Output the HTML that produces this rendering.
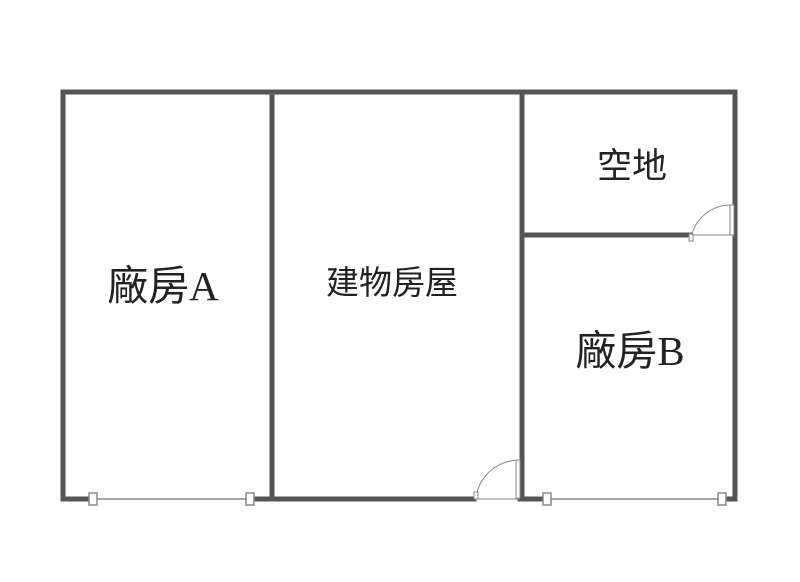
<!DOCTYPE html>
<html><head><meta charset="utf-8"><style>body{margin:0;background:#fff}</style></head><body>
<svg width="800" height="577" viewBox="0 0 800 577" xmlns="http://www.w3.org/2000/svg">
<g stroke="#555" stroke-width="5" fill="none" stroke-linecap="square">
<path d="M63 499 V92 H735 V499"/>
<line x1="272" y1="92" x2="272" y2="499"/>
<line x1="522" y1="92" x2="522" y2="499"/>
<line x1="522" y1="235" x2="690" y2="235"/>
<line x1="63" y1="499" x2="88" y2="499"/>
<line x1="255" y1="499" x2="474" y2="499"/>
<line x1="520" y1="499" x2="542" y2="499"/>
<line x1="725" y1="499" x2="735" y2="499"/>
</g>
<g stroke="#888" stroke-width="1.5" fill="#fff">
<line x1="93" y1="499" x2="250" y2="499"/>
<line x1="547" y1="499" x2="722" y2="499"/>
<rect x="89" y="493" width="8" height="12"/>
<rect x="246" y="493" width="8" height="12"/>
<rect x="543" y="493" width="8" height="12"/>
<rect x="718" y="493" width="8" height="12"/>
</g>
<g stroke="#888" stroke-width="1" fill="none">
<path d="M476 497 A44 44 0 0 1 519 460"/>
<rect x="516" y="460" width="4" height="38" fill="#fff"/>
<rect x="474" y="492" width="4" height="7" fill="#fff"/>
<line x1="476" y1="499" x2="520" y2="499"/>
<path d="M692 234 A40 40 0 0 1 731 205"/>
<rect x="730" y="205" width="4" height="30" fill="#fff"/>
<rect x="689" y="234" width="4" height="7" fill="#fff"/>
<line x1="692" y1="235" x2="733" y2="235"/>
</g>
<g font-family="'Liberation Serif','Noto Sans CJK TC',sans-serif" fill="#222" text-anchor="middle">
<text x="163" y="300" font-size="41">廠房A</text>
<text x="392" y="294" font-size="33">建物房屋</text>
<text x="632" y="178" font-size="35">空地</text>
<text x="630" y="365" font-size="41">廠房B</text>
</g>
</svg>
</body></html>
